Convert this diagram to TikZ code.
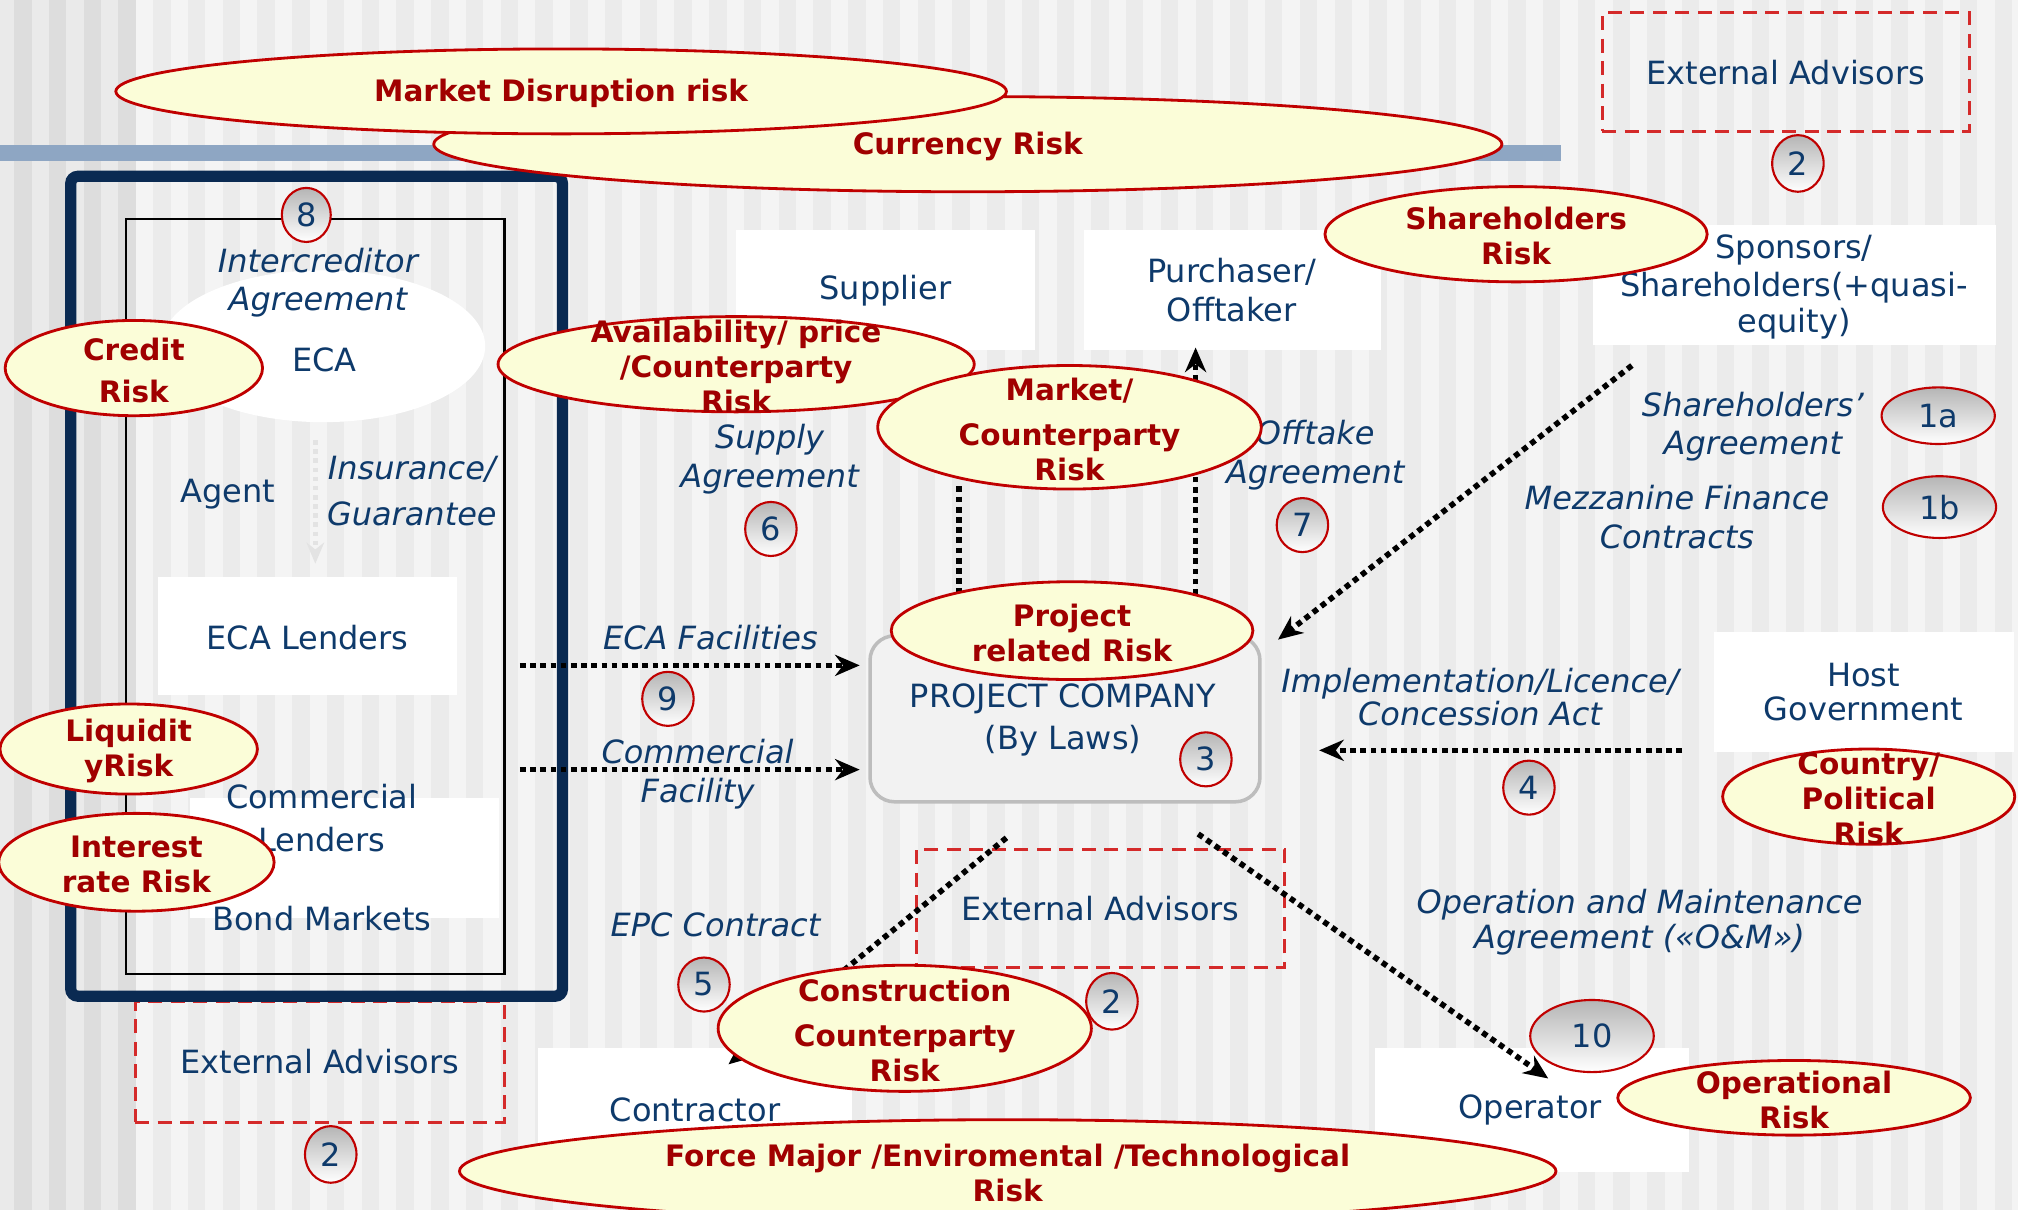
\documentclass[tikz,border=0pt]{standalone}
\usepackage{fontspec}
\setmainfont{DejaVu Sans}
\usetikzlibrary{arrows.meta,shapes.geometric,calc}

\definecolor{navy}{HTML}{0E3A6B}
\definecolor{riskred}{HTML}{A00000}
\definecolor{riskedge}{HTML}{C00000}
\definecolor{riskfill}{HTML}{FBFDD8}
\definecolor{framenavy}{HTML}{0A2A52}
\definecolor{barblue}{HTML}{8EA6C3}
\definecolor{dashred}{HTML}{D42A2A}
\definecolor{bgdarkA}{HTML}{EAEAEA}
\definecolor{bgdarkB}{HTML}{DDDDDD}
\definecolor{bglightA}{HTML}{F4F4F4}
\definecolor{bglightB}{HTML}{EBEBEB}
\definecolor{numgrey}{HTML}{B5B5B5}
\definecolor{pcfill}{HTML}{F2F2F2}
\definecolor{pcedge}{HTML}{BDBDBD}

\tikzset{
  base/.style={inner sep=0pt, outer sep=0pt},
  sz/.style 2 args={minimum width={#1*0.01287cm}, minimum height={#2*0.01287cm}},
  txt/.style={base, yshift=-0.6pt, text=navy, align=center, font=\fontsize{9.1}{11}\selectfont},
  itxt/.style={base, yshift=-0.6pt, text=navy, align=center, font=\fontsize{9.1}{11}\selectfont\itshape},
  whitebox/.style={base, rectangle, fill=white},
  advbox/.style={base, rectangle, draw=dashred, line width=0.8pt, dash pattern=on 4pt off 2.4pt,
                 text=navy, font=\fontsize{9.1}{11}\selectfont},
  riskshape/.style={base, ellipse, draw=riskedge, fill=riskfill, line width=0.8pt},
  risktext/.style={base, yshift=-0.6pt, text=riskred, align=center, font=\fontsize{8.4}{9.9}\selectfont\bfseries},
  numshape/.style={base, ellipse, draw=riskedge, line width=0.6pt, top color=numgrey, bottom color=white,
                   text=navy, font=\fontsize{9.1}{11}\selectfont},
  flow/.style={line width=1.6pt, dash pattern=on 1.6pt off 1.3pt, -{Stealth[length=7pt,width=6pt]}},
  flowplain/.style={line width=1.6pt, dash pattern=on 1.6pt off 1.3pt},
}

% risk oval: name, centre, width, height, text
\newcommand\riskoval[5]{%
  \node[riskshape, sz={#3}{#4}] (#1) at (#2) {};
  \node[risktext] (#1-t) at (#1.center) {#5};}
% numbered badge: name, centre, width, height, text
\newcommand\badge[5]{\node[numshape, sz={#3}{#4}] (#1) at (#2) {#5};}

\begin{document}
\begin{tikzpicture}[x=0.01287cm, y=-0.01287cm]
\useasboundingbox (0,0) rectangle (1568,940);

% striped background
\fill[bgdarkA] (0,0) rectangle (105,940);
\fill[bglightA] (105,0) rectangle (1568,940);
\foreach \k in {0,...,3} \fill[bgdarkB] ({11+27*\k},0) rectangle ({24.5+27*\k},940);
\foreach \k in {4,...,57} \fill[bglightB] ({11+27*\k},0) rectangle ({24.5+27*\k},940);

% title bar
\fill[barblue] (0,113) rectangle (1213,125);

% advisors boxes
\node[advbox, sz={285}{92}] (adv1) at (1387.5,56) {External Advisors};
\node[advbox, sz={287}{94}] (adv2) at (248.5,825) {External Advisors};
\node[advbox, sz={286}{92}] (adv3) at (855,706) {External Advisors};

% lenders' frame
\node[base, draw=framenavy, line width=3.2pt, rounded corners=2pt, sz={382}{637}] (frame) at (246,455.5) {};
\node[base, draw=black, line width=0.6pt, sz={294}{587}] (inner) at (245,463.5) {};

\node[base, ellipse, fill=white, sz={252}{118}] (ecaoval) at (251,269) {};
\node[txt] (eca) at (252,278) {ECA};
\node[itxt] (icred) at (247,218) {Intercreditor\\Agreement};
\node[txt] (agent) at (177,382) {Agent};
\node[itxt] (insur) at (320,380) {Insurance/\\[2pt]Guarantee};
\coordinate (insA) at (245,342);
\coordinate (insB) at (245,438);
\draw[gray!22, line width=1.3pt, dash pattern=on 1.3pt off 1.3pt, -{Stealth[length=6pt,width=5pt]}] (insA) -- (insB);

\node[whitebox, sz={232}{92}] (ecal) at (239,494) {};
\node[txt] (ecal-t) at (ecal.center) {ECA Lenders};
\node[whitebox, sz={240}{93}] (coml) at (268,666.5) {};
\node[txt] (coml-t) at (250,634) {Commercial\\[1pt]Lenders};
\node[txt] (bond) at (250,712) {Bond Markets};

% white entity boxes
\node[whitebox, sz={232}{93}] (supp) at (688,225.5) {};
\node[txt] (supp-t) at (688,224) {Supplier};
\node[whitebox, sz={231}{93}] (purch) at (957.5,225.5) {};
\node[txt] (purch-t) at (957,224) {Purchaser/\\Offtaker};
\node[whitebox, sz={313}{93}] (spons) at (1394.5,221.5) {};
\node[txt] (spons-t) at (1394,221) {Sponsors/\\Shareholders(+quasi-\\[-1pt]equity)};
\node[whitebox, sz={233}{93}] (host) at (1448.5,537.5) {};
\node[txt] (host-t) at (1448,536) {Host\\[-1.5pt]Government};
\node[whitebox, sz={244}{92}] (contr) at (540,860) {};
\node[txt] (contr-t) at (540,861) {Contractor};
\node[whitebox, sz={244}{97}] (oper) at (1190,862.5) {};
\node[txt] (oper-t) at (1189,861) {Operator};

% project company
\node[base, draw=pcedge, fill=pcfill, line width=1pt, rounded corners=7pt, sz={303}{129}] (pc) at (827.5,558.5) {};
\node[txt] (pc-t) at (826,558) {PROJECT COMPANY\\[1pt](By Laws)};

% contract labels
\node[itxt] (supag) at (598,355) {Supply\\Agreement};
\node[itxt] (offag) at (1022,352) {Offtake\\Agreement};
\node[itxt] (shag) at (1362,330) {Shareholders’\\Agreement};
\node[itxt] (mezz) at (1303,400) {Mezzanine Finance\\Contracts};
\node[itxt] (ecaf) at (552,494) {ECA Facilities};
\node[itxt] (comf) at (542,600) {Commercial\\Facility};
\node[itxt] (impl) at (1150,540) {Implementation/Licence/\\[-1.5pt]Concession Act};
\node[itxt] (epc) at (556,717) {EPC Contract};
\node[itxt] (om) at (1274,715) {Operation and Maintenance\\[-1pt]Agreement («O\&M»)};

% contract flows
\coordinate (supS) at (745,378);
\coordinate (supE) at (745,462);
\coordinate (offS) at (929,462);
\coordinate (offE) at (929,270);
\coordinate (ecaS) at (404,517);
\coordinate (ecaE) at (668,517);
\coordinate (comS) at (404,598);
\coordinate (comE) at (668,598);
\coordinate (shS) at (1268,284);
\coordinate (shE) at (993,497);
\coordinate (hostS) at (1307,583);
\coordinate (hostE) at (1025,583);
\coordinate (epcS) at (782,651);
\coordinate (epcE) at (566,827);
\coordinate (omS) at (931,648);
\coordinate (omE) at (1203,838);
\draw[flowplain] (supS) -- (supE);
\draw[flow] (offS) -- (offE);
\draw[flow] (ecaS) -- (ecaE);
\draw[flow] (comS) -- (comE);
\draw[flow] (shS) -- (shE);
\draw[flow] (hostS) -- (hostE);
\draw[flow] (epcS) -- (epcE);
\draw[flow] (omS) -- (omE);

% risks
\riskoval{rcur}{752,112}{830}{74}{Currency Risk}
\riskoval{rmkt}{436,71}{692}{66}{Market Disruption risk}
\riskoval{rcred}{104,286}{200}{74}{Credit\\[2pt]Risk}
\riskoval{rliq}{100,582}{200}{70}{Liquidit\\yRisk}
\riskoval{rint}{106,670}{214}{76}{Interest\\rate Risk}
\riskoval{rsh}{1178,182}{297}{74}{Shareholders\\Risk}
\riskoval{ravl}{572,283}{370}{74}{Availability/ price\\/Counterparty\\Risk}
\riskoval{rmc}{831,332}{298}{96}{Market/\\[3pt]Counterparty\\Risk}
\riskoval{rproj}{833,490}{281}{76}{Project\\related Risk}
\riskoval{rctry}{1452,619}{227}{74}{Country/\\Political\\Risk}
\riskoval{rcon}{703,799}{290}{98}{Construction\\[3pt]Counterparty\\Risk}
\riskoval{rop}{1394,853}{274}{58}{Operational\\Risk}
\riskoval{rfm}{783,910}{852}{80}{Force Major /Enviromental /Technological\\Risk}

% numbered badges
\badge{n8}{238,167}{38}{42}{8}
\badge{n2a}{1397,127}{40}{44}{2}
\badge{n2b}{257,897}{40}{44}{2}
\badge{n2c}{864,778}{40}{44}{2}
\badge{n6}{599,411}{40}{42}{6}
\badge{n7}{1012,408}{40}{42}{7}
\badge{n3}{937,590}{40}{42}{3}
\badge{n9}{519,543}{40}{42}{9}
\badge{n4}{1188,612}{40}{42}{4}
\badge{n5}{547,765}{40}{42}{5}
\badge{n1a}{1506,323}{88}{44}{1a}
\badge{n1b}{1507,394}{88}{48}{1b}
\badge{n10}{1237,805}{96}{56}{10}

\end{tikzpicture}
\end{document}
